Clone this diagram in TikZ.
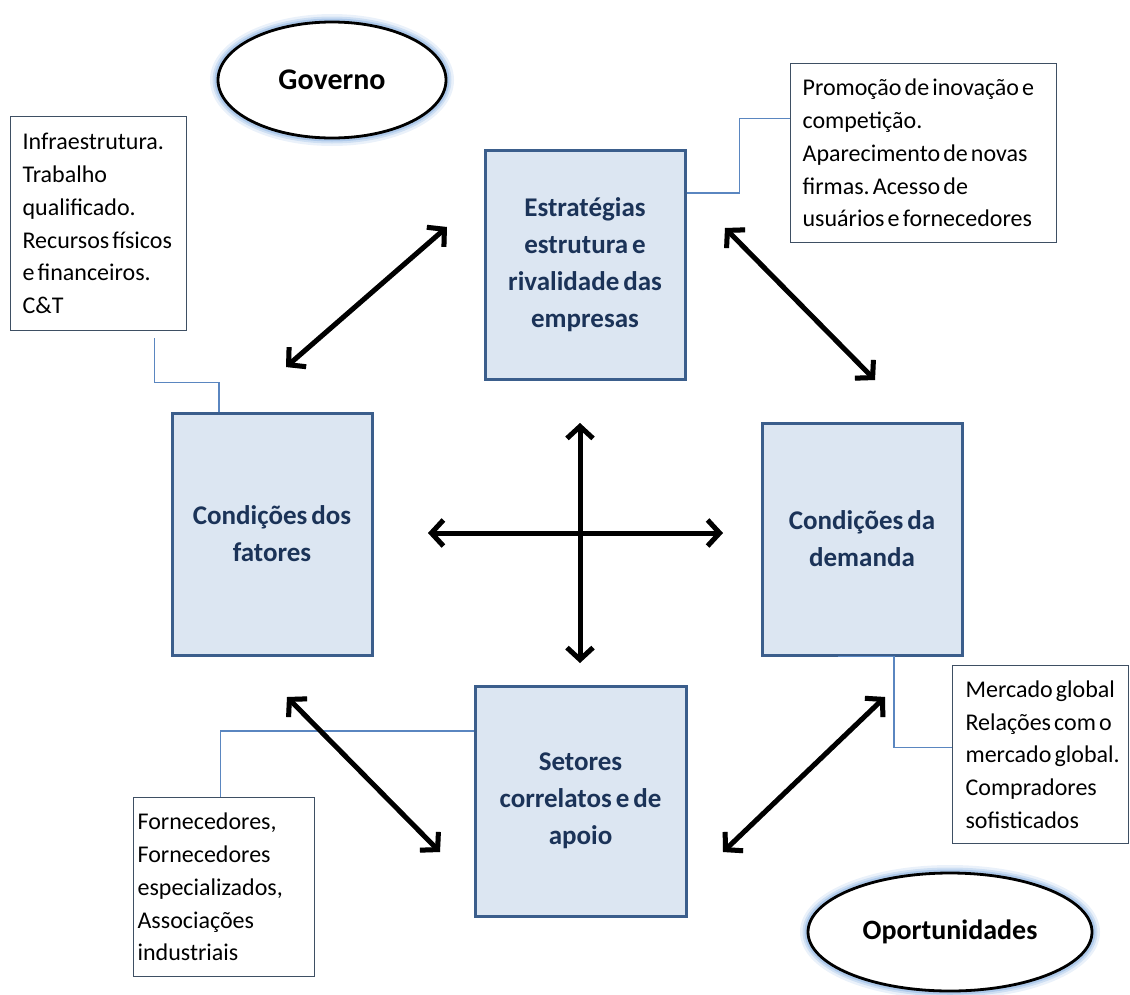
\documentclass[tikz,border=0pt]{standalone}
\usepackage{fontspec}
\setmainfont{Carlito}[WordSpace={0.65,0,0}]
\frenchspacing
\usetikzlibrary{arrows.meta,shapes.geometric}
\definecolor{boxfill}{HTML}{DCE6F2}
\definecolor{boxline}{HTML}{3B5E8C}
\definecolor{boxtext}{HTML}{1B3358}
\definecolor{callline}{HTML}{3E4F63}
\definecolor{connline}{HTML}{5A86C0}
\definecolor{glowc}{HTML}{8DB4E2}
\newcommand{\calln}[1]{\mbox{\spaceskip=0.13em\relax #1}}
\begin{document}
\begin{tikzpicture}[x=1pt,y=-1pt,
  mainbox/.style={draw=boxline, fill=boxfill, line width=3pt, text=boxtext,
    font=\fontsize{27}{36.8}\selectfont\bfseries, align=center, inner sep=0pt},
  callout/.style={draw=callline, fill=white, line width=1.2pt, anchor=north west,
    font=\fontsize{24}{32.7}\selectfont, align=left, inner ysep=0pt},
  conn/.style={draw=connline, line width=1.3pt},
  ell/.style={ellipse, draw=black, fill=white, line width=2.8pt, inner sep=0pt,
    preaction={draw=glowc, line width=16pt, opacity=0.18},
    preaction={draw=glowc, line width=11pt, opacity=0.3},
    preaction={draw=glowc, line width=7pt, opacity=0.5}},
  dblarrow/.style={line width=5pt, draw=black, line join=round,
    {Straight Barb[length=12pt,width=26pt]}-{Straight Barb[length=12pt,width=26pt]}},
  arrshadow/.style={dblarrow, draw=black!40, opacity=0.45, shift={(2,3)}}
]
\useasboundingbox (0,0) rectangle (1130,994);

% ellipses
\node[ell, minimum width=228pt, minimum height=116pt, font=\fontsize{30}{34}\selectfont\bfseries] (gov) at (332,80) {Governo};
\node[ell, minimum width=284pt, minimum height=118pt, font=\fontsize{28}{32}\selectfont\bfseries] (opo) at (950,932) {Oportunidades};

% main boxes
\node[mainbox, minimum width=200pt, minimum height=229pt] (strat) at (585,264.5)
  {Estratégias\\estrutura e\\rivalidade das\\empresas};
\node[mainbox, minimum width=200pt, minimum height=242pt] (fat) at (272,534)
  {Condições dos\\fatores};
\node[mainbox, minimum width=200pt, minimum height=232pt] (dem) at (862,539)
  {Condições da\\demanda};
\node[mainbox, minimum width=211pt, minimum height=230pt] (set) at (580.5,801)
  {Setores\\correlatos e de\\apoio};

% callouts
\node[callout, inner xsep=12pt, text width=152pt, minimum width=176pt, minimum height=214pt] (infra) at (10,116)
  {\calln{Infraestrutura.}\\\calln{Trabalho}\\\calln{qualificado.}\\\calln{Recursos físicos}\\\calln{e financeiros.}\\\calln{C\&T}};
\node[callout, inner xsep=12pt, text width=242pt, minimum width=266pt, minimum height=179pt] (promo) at (790,63)
  {\calln{Promoção de inovação e}\\\calln{competição.}\\\calln{Aparecimento de novas}\\\calln{firmas. Acesso de}\\\calln{usuários e fornecedores}};
\node[callout, inner xsep=13pt, text width=150pt, minimum width=176pt, minimum height=178pt] (merc) at (952,665)
  {\calln{Mercado global}\\\calln{Relações com o}\\\calln{mercado global.}\\\calln{Compradores}\\\calln{sofisticados}};
\node[callout, inner xsep=4pt, text width=173pt, minimum width=181pt, minimum height=179pt] (forn) at (133,797)
  {\calln{Fornecedores,}\\\calln{Fornecedores}\\\calln{especializados,}\\\calln{Associações}\\\calln{industriais}};

% callout connectors
\draw[conn] ([shift={(-33,7)}]infra.south east) -- ++(0,44) -| ([xshift=-53pt]fat.north);
\draw[conn] ([yshift=71.5pt]strat.east) -- ++(53,0) |- ([yshift=34.5pt]promo.west);
\draw[conn] ([xshift=-24pt]dem.south) -- ++(56,0) |- ([yshift=7pt]merc.west);
\draw[conn] ([yshift=70pt]set.west) -| ([xshift=-3.5pt]forn.north);

% arrow end points
\coordinate (a1s) at (447,227); \coordinate (a1e) at (286,367);
\coordinate (a2s) at (725,228); \coordinate (a2e) at (875,380);
\coordinate (a3s) at (287,697); \coordinate (a3e) at (440,852);
\coordinate (a4s) at (885,697); \coordinate (a4e) at (723,852);
\coordinate (hs) at (428,533); \coordinate (he) at (723,533);
\coordinate (vs) at (580,423); \coordinate (ve) at (580,663);

\foreach \s/\e in {a1s/a1e,a2s/a2e,a3s/a3e,a4s/a4e,hs/he,vs/ve}
  \draw[arrshadow] (\s) -- (\e);
\foreach \s/\e in {a1s/a1e,a2s/a2e,a3s/a3e,a4s/a4e,hs/he,vs/ve}
  \draw[dblarrow] (\s) -- (\e);
\end{tikzpicture}
\end{document}
